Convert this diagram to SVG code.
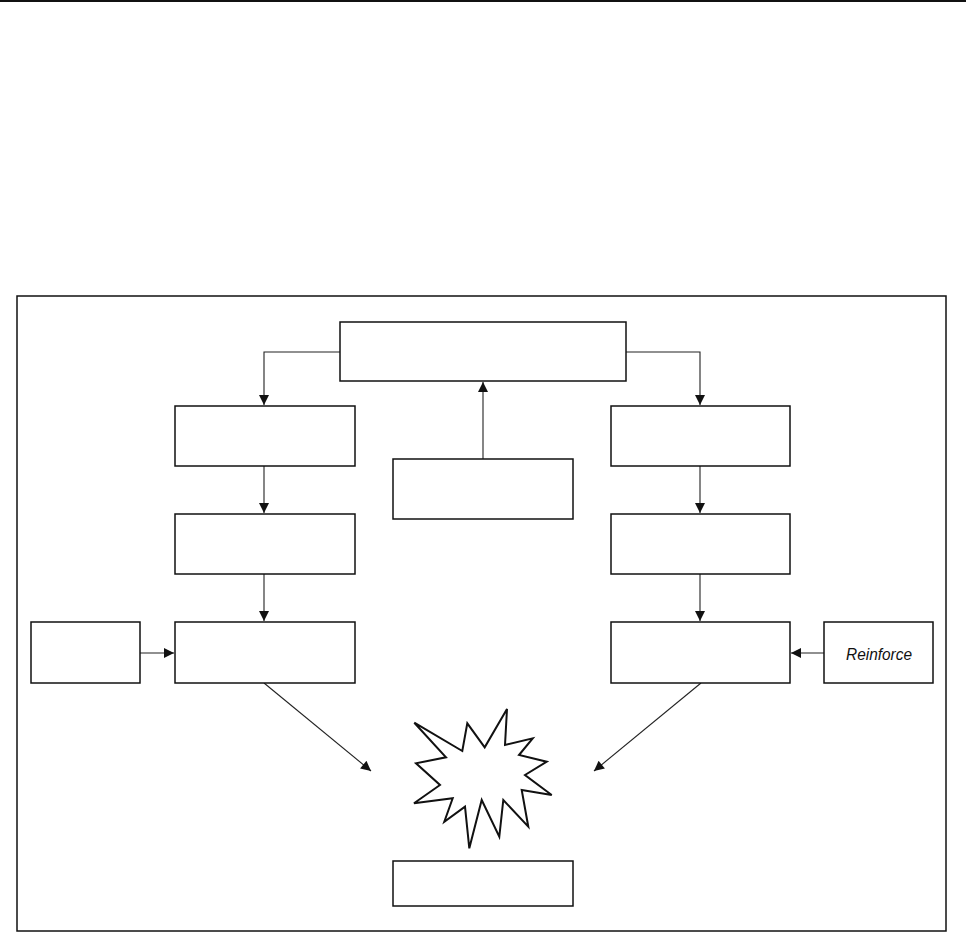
<svg xmlns="http://www.w3.org/2000/svg" width="966" height="933" viewBox="0 0 966 933">
<style>
.box{fill:#fff;stroke:#111;stroke-width:1.5}
.con{fill:none;stroke:#222;stroke-width:1.1}
.lbl{font-family:"Liberation Sans",Arial,sans-serif;font-size:17px;font-style:italic;fill:#111}
</style>
<defs>
<marker id="ah" viewBox="0 0 10 10" refX="10" refY="5" markerWidth="11" markerHeight="10" markerUnits="userSpaceOnUse" orient="auto">
<path d="M0,0 L10,5 L0,10 Z" fill="#111"/>
</marker>
</defs>
<rect width="966" height="933" fill="#fff"/>
<line x1="0" y1="1" x2="966" y2="1" stroke="#111" stroke-width="2"/>
<rect id="frame" x="17" y="296" width="929" height="635" fill="none" stroke="#111" stroke-width="1.5"/>
<g id="connectors">
<polyline class="con" points="340,352 264,352 264,405" marker-end="url(#ah)"/>
<polyline class="con" points="626,352 700,352 700,405" marker-end="url(#ah)"/>
<line class="con" x1="483" y1="459" x2="483" y2="382" marker-end="url(#ah)"/>
<line class="con" x1="264" y1="466" x2="264" y2="513" marker-end="url(#ah)"/>
<line class="con" x1="264" y1="574" x2="264" y2="621" marker-end="url(#ah)"/>
<line class="con" x1="700" y1="466" x2="700" y2="513" marker-end="url(#ah)"/>
<line class="con" x1="700" y1="574" x2="700" y2="621" marker-end="url(#ah)"/>
<line class="con" x1="140" y1="653" x2="174" y2="653" marker-end="url(#ah)"/>
<line class="con" x1="824" y1="653" x2="791" y2="653" marker-end="url(#ah)"/>
<line class="con" x1="264" y1="683" x2="371" y2="771" marker-end="url(#ah)"/>
<line class="con" x1="701" y1="683" x2="594" y2="771" marker-end="url(#ah)"/>
</g>
<g id="top"><rect class="box" x="340" y="322" width="286" height="59"/></g>
<g id="left1"><rect class="box" x="175" y="406" width="180" height="60"/></g>
<g id="left2"><rect class="box" x="175" y="514" width="180" height="60"/></g>
<g id="left3"><rect class="box" x="175" y="622" width="180" height="61"/></g>
<g id="right1"><rect class="box" x="611" y="406" width="179" height="60"/></g>
<g id="right2"><rect class="box" x="611" y="514" width="179" height="60"/></g>
<g id="right3"><rect class="box" x="611" y="622" width="179" height="61"/></g>
<g id="middle"><rect class="box" x="393" y="459" width="180" height="60"/></g>
<g id="leftsmall"><rect class="box" x="31" y="622" width="109" height="61"/></g>
<g id="reinforce"><rect class="box" x="824" y="622" width="109" height="61"/>
<text class="lbl" x="846" y="660" textLength="66" lengthAdjust="spacingAndGlyphs">Reinforce</text></g>
<g id="burst"><polygon fill="#fff" stroke="#111" stroke-width="2" stroke-linejoin="miter" points="414.3,722.7 462.3,751 467.3,723.3 484.7,747.3 507,709 505,745 532.7,738.3 519,755 546.7,761.7 525,775 551.7,795 521.7,790 528.3,826.7 503.3,800 499.3,836.7 481.7,800 469.3,848.3 465,806.7 444.3,821.7 452.7,798.3 414,803.3 440,785 416,763.3 446,757.3"/></g>
<g id="bottom"><rect class="box" x="393" y="861" width="180" height="45"/></g>
</svg>
